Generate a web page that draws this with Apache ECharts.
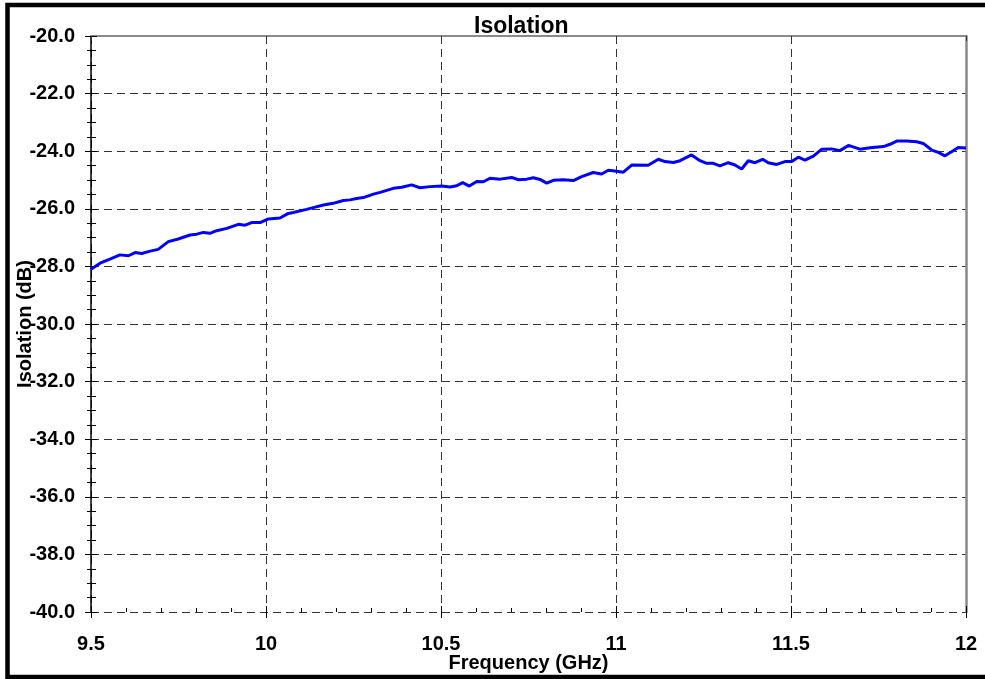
<!DOCTYPE html>
<html>
<head>
<meta charset="utf-8">
<title>Isolation</title>
<script src="https://cdn.jsdelivr.net/npm/echarts@6/dist/echarts.min.js"></script>
<style>
  html, body { margin: 0; padding: 0; background: #fff; }
  #chart { width: 985px; height: 679px; }
</style>
</head>
<body>
<div id="chart"></div>
<script>
// Measured isolation versus frequency
const freqGHz = [
  9.500, 9.502, 9.526, 9.554, 9.583, 9.607, 9.626, 9.645, 9.669, 9.692,
  9.721, 9.749, 9.783, 9.802, 9.821, 9.840, 9.859, 9.888, 9.921, 9.940,
  9.959, 9.983, 10.007, 10.040, 10.064, 10.078, 10.116, 10.135, 10.164, 10.192,
  10.221, 10.240, 10.259, 10.278, 10.307, 10.326, 10.364, 10.388, 10.416, 10.440,
  10.469, 10.502, 10.526, 10.545, 10.562, 10.581, 10.602, 10.621, 10.640, 10.669,
  10.702, 10.721, 10.745, 10.764, 10.783, 10.802, 10.821, 10.849, 10.878, 10.902,
  10.935, 10.959, 10.978, 11.002, 11.021, 11.045, 11.092, 11.121, 11.140, 11.164,
  11.183, 11.216, 11.240, 11.259, 11.278, 11.297, 11.321, 11.340, 11.359, 11.378,
  11.397, 11.419, 11.435, 11.459, 11.483, 11.502, 11.521, 11.540, 11.564, 11.588,
  11.616, 11.640, 11.664, 11.697, 11.726, 11.764, 11.783, 11.802, 11.830, 11.859,
  11.878, 11.902, 11.921, 11.940, 11.959, 11.978, 12.000
];
const isolationDb = [
  -28.10, -28.07, -27.89, -27.75, -27.60, -27.63, -27.52, -27.55, -27.47, -27.41,
  -27.14, -27.05, -26.91, -26.88, -26.82, -26.85, -26.76, -26.68, -26.54, -26.57,
  -26.48, -26.48, -26.35, -26.32, -26.16, -26.13, -26.02, -25.96, -25.87, -25.81,
  -25.71, -25.69, -25.64, -25.61, -25.49, -25.43, -25.29, -25.25, -25.17, -25.27,
  -25.23, -25.21, -25.24, -25.20, -25.09, -25.21, -25.05, -25.06, -24.94, -24.97,
  -24.91, -24.99, -24.97, -24.92, -24.98, -25.11, -25.01, -24.99, -25.02, -24.88,
  -24.74, -24.79, -24.66, -24.70, -24.73, -24.48, -24.49, -24.28, -24.36, -24.39,
  -24.33, -24.13, -24.33, -24.42, -24.42, -24.51, -24.40, -24.48, -24.62, -24.33,
  -24.40, -24.28, -24.40, -24.46, -24.36, -24.36, -24.21, -24.31, -24.17, -23.93,
  -23.92, -23.98, -23.80, -23.93, -23.88, -23.84, -23.76, -23.65, -23.65, -23.67,
  -23.73, -23.96, -24.04, -24.16, -24.02, -23.87, -23.89
];

// Axis ranges and tick spacing
const xRange = { min: 9.5, max: 12, step: 0.5 };
const yRange = { min: -40, max: -20, step: 2 };

const FONT = '"Liberation Sans", Arial, sans-serif';
const gridDash = [8, 5];

const chart = echarts.init(document.getElementById('chart'), null, { renderer: 'canvas' });

const points = freqGHz.map((f, i) => [f, isolationDb[i]]);

chart.setOption({
  animation: false,
  backgroundColor: '#fff',
  title: {
    text: 'Isolation',
    left: 469,
    top: 10,
    textStyle: { fontFamily: FONT, fontSize: 23, fontWeight: 'bold', color: '#000' }
  },
  grid: { left: 91, right: 19, top: 36, bottom: 67, containLabel: false, outerBoundsMode: 'none' },
  xAxis: [
    {
      type: 'value', position: 'bottom',
      min: xRange.min, max: xRange.max, interval: xRange.step,
      axisLine: { show: false },
      axisTick: { show: true, inside: false, length: 6, lineStyle: { color: '#000', width: 1 } },
      minorTick: { show: false },
      axisLabel: {
        margin: 22, fontFamily: FONT, fontSize: 20, fontWeight: 'bold', color: '#000',
        formatter: v => String(+v.toFixed(1))
      },
      splitLine: { show: true, lineStyle: { color: '#333', width: 1, type: gridDash } },
      name: 'Frequency (GHz)',
      nameLocation: 'middle',
      nameGap: 41,
      nameMoveOverlap: false,
      nameTextStyle: { fontFamily: FONT, fontSize: 20, fontWeight: 'bold', color: '#000' }
    },
    {
      type: 'value', position: 'bottom',
      min: xRange.min, max: xRange.max, interval: xRange.step,
      axisLine: { show: false },
      axisTick: { show: true, inside: true, length: 6, lineStyle: { color: '#000', width: 1 } },
      minorTick: { show: true, splitNumber: 5, length: 4, lineStyle: { color: '#000', width: 1 } },
      axisLabel: { show: false },
      splitLine: { show: false }
    },
    {
      type: 'value', position: 'top',
      min: xRange.min, max: xRange.max, interval: xRange.step,
      axisLine: { show: true, lineStyle: { color: '#8a8a8a', width: 2 } },
      axisTick: { show: true, inside: true, length: 5, lineStyle: { color: '#333', width: 1 } },
      axisLabel: { show: false },
      splitLine: { show: false }
    }
  ],
  yAxis: [
    {
      type: 'value', position: 'left',
      min: yRange.min, max: yRange.max, interval: yRange.step,
      axisLine: { show: true, lineStyle: { color: '#000', width: 1.5 } },
      axisTick: { show: true, inside: false, length: 6, lineStyle: { color: '#000', width: 1 } },
      minorTick: { show: true, splitNumber: 4, length: 4, lineStyle: { color: '#000', width: 1 } },
      axisLabel: {
        margin: 16, fontFamily: FONT, fontSize: 20, fontWeight: 'bold', color: '#000',
        formatter: v => v.toFixed(1)
      },
      splitLine: { show: true, lineStyle: { color: '#333', width: 1, type: gridDash } },
      name: 'Isolation (dB)',
      nameLocation: 'middle',
      nameGap: 56,
      nameMoveOverlap: false,
      nameTextStyle: { fontFamily: FONT, fontSize: 20, fontWeight: 'bold', color: '#000' }
    },
    {
      type: 'value', position: 'left',
      min: yRange.min, max: yRange.max, interval: yRange.step,
      axisLine: { show: false },
      axisTick: { show: true, inside: true, length: 6, lineStyle: { color: '#000', width: 1 } },
      minorTick: { show: true, splitNumber: 4, length: 5, lineStyle: { color: '#000', width: 1 } },
      axisLabel: { show: false },
      splitLine: { show: false }
    },
    {
      type: 'value', position: 'right',
      min: yRange.min, max: yRange.max, interval: yRange.step,
      axisLine: { show: true, lineStyle: { color: '#8a8a8a', width: 2.5 } },
      axisTick: { show: false },
      axisLabel: { show: false },
      splitLine: { show: false }
    }
  ],
  series: [
    {
      type: 'line',
      xAxisIndex: 0,
      yAxisIndex: 0,
      data: points,
      showSymbol: false,
      symbol: 'none',
      smooth: false,
      lineStyle: { color: '#0000ff', width: 3 },
      z: 5
    }
  ],
  graphic: [
    {
      type: 'rect',
      silent: true,
      z: 100,
      shape: { x: 7.5, y: 5, width: 990, height: 672 },
      style: { fill: null, stroke: '#000', lineWidth: 4.5 }
    }
  ]
});
</script>
</body>
</html>
